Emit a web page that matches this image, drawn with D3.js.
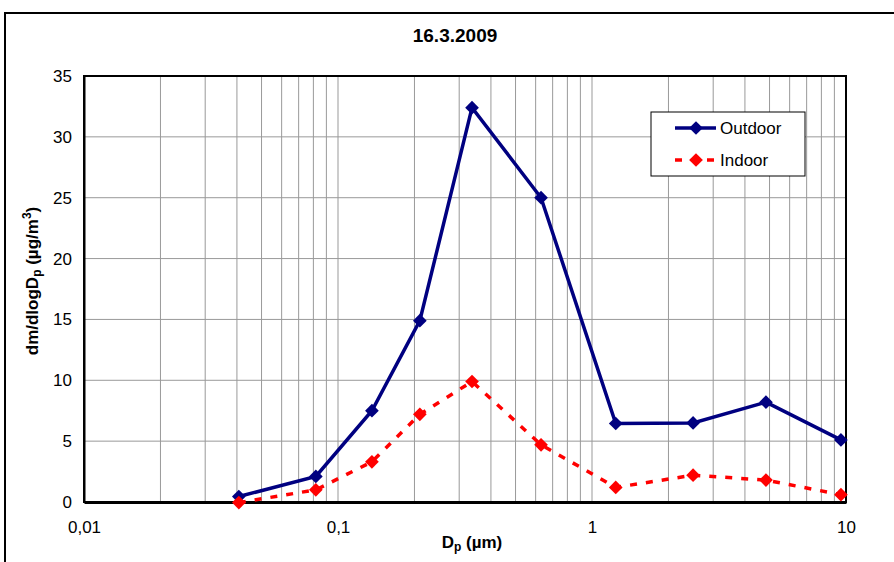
<!DOCTYPE html>
<html>
<head>
<meta charset="utf-8">
<script src="https://cdn.jsdelivr.net/npm/d3@7"></script>
<style>
  body { margin: 0; background: #fff; }
  text { font-family: "Liberation Sans", Arial, sans-serif; }
</style>
</head>
<body>
<script>
// particle size (um)
var sizes = [0.0407, 0.0818, 0.136, 0.21, 0.337, 0.63, 1.24, 2.5, 4.84, 9.55];
var outdoor = [0.45, 2.1, 7.5, 14.9, 32.4, 25.0, 6.45, 6.5, 8.2, 5.1];
var indoor = [-0.05, 1.0, 3.3, 7.2, 9.9, 4.7, 1.2, 2.2, 1.8, 0.6];
var yTicks = [0, 5, 10, 15, 20, 25, 30, 35];
var xTicks = [0.01, 0.1, 1, 10];
var xTickLabels = ["0,01", "0,1", "1", "10"];

var w = 894, h = 562;
var mLeft = 84, mRight = 846, mTop = 76, mBottom = 502;

var svg = d3.select("body").append("svg")
    .attr("width", w).attr("height", h);

// outer chart frame
svg.append("rect")
    .attr("x", 5).attr("y", 13)
    .attr("width", 890).attr("height", 560)
    .attr("fill", "none").attr("stroke", "#000").attr("stroke-width", 2);

var x = d3.scaleLog().domain([0.01, 10]).range([mLeft, mRight]);
var y = d3.scaleLinear().domain([0, 35]).range([mBottom, mTop]);

// vertical grid at every minor log step
var minor = [];
[0.01, 0.1, 1].forEach(function (d) {
    for (var k = 1; k <= 9; k++) minor.push(d * k);
});
svg.append("g").selectAll("line")
    .data(minor)
    .enter()
    .append("line")
    .attr("x1", function (d) { return x(d); })
    .attr("x2", function (d) { return x(d); })
    .attr("y1", mTop).attr("y2", mBottom)
    .attr("stroke", "#999").attr("stroke-width", 1);

svg.append("g").selectAll("line")
    .data(yTicks)
    .enter()
    .append("line")
    .attr("x1", mLeft).attr("x2", mRight)
    .attr("y1", function (d) { return y(d); })
    .attr("y2", function (d) { return y(d); })
    .attr("stroke", "#999").attr("stroke-width", 1);

// plot border
svg.append("rect")
    .attr("x", mLeft).attr("y", mTop)
    .attr("width", mRight - mLeft).attr("height", mBottom - mTop)
    .attr("fill", "none").attr("stroke", "#000").attr("stroke-width", 2);

// y axis
var yAxis = svg.append("g")
    .attr("transform", "translate(" + mLeft + ",0)")
    .call(d3.axisLeft(y).tickValues(yTicks).tickSize(0).tickPadding(12));
yAxis.select(".domain").attr("stroke-width", 2);
yAxis.selectAll("text").attr("font-size", 17).attr("fill", "#000")
    .style("font-family", "Liberation Sans, Arial, sans-serif");

// x axis
var xAxis = svg.append("g")
    .attr("transform", "translate(0," + mBottom + ")")
    .call(d3.axisBottom(x).tickValues(xTicks).tickSize(0).tickPadding(19)
        .tickFormat(function (d, i) { return xTickLabels[i]; }));
xAxis.select(".domain").attr("stroke-width", 3);
xAxis.selectAll("text").attr("font-size", 17).attr("fill", "#000")
    .style("font-family", "Liberation Sans, Arial, sans-serif");

// title and labels
svg.append("text")
    .attr("x", 455).attr("y", 42)
    .attr("text-anchor", "middle")
    .attr("font-size", 19).attr("font-weight", "bold")
    .text("16.3.2009");

var xl = svg.append("text")
    .attr("x", 472).attr("y", 548)
    .attr("text-anchor", "middle")
    .attr("font-size", 17).attr("font-weight", "bold");
xl.append("tspan").text("D");
xl.append("tspan").attr("font-size", 12).attr("dy", 3).text("p");
xl.append("tspan").attr("dy", -3).text(" (µm)");

var yl = svg.append("text")
    .attr("transform", "translate(38,281) rotate(-90)")
    .attr("text-anchor", "middle")
    .attr("font-size", 17).attr("font-weight", "bold");
yl.append("tspan").text("dm/dlogD");
yl.append("tspan").attr("font-size", 12).attr("dy", 3).text("p");
yl.append("tspan").attr("dy", -3).text(" (µg/m");
yl.append("tspan").attr("font-size", 12).attr("dy", -7).text("3");
yl.append("tspan").attr("dy", 7).text(")");

// series
var line = d3.line()
    .x(function (d, i) { return x(sizes[i]); })
    .y(function (d) { return y(d); });
var diamond = d3.symbol().type(d3.symbolDiamond2).size(120);

function drawSeries(vals, color, dash) {
    svg.append("path")
        .datum(vals)
        .attr("d", line)
        .attr("fill", "none")
        .attr("stroke", color)
        .attr("stroke-width", 3.5)
        .attr("stroke-dasharray", dash);
    svg.append("g").selectAll("path")
        .data(vals)
        .enter()
        .append("path")
        .attr("d", diamond)
        .attr("transform", function (d, i) {
            return "translate(" + x(sizes[i]) + "," + y(d) + ")";
        })
        .attr("fill", color);
}
drawSeries(outdoor, "#000080", null);
drawSeries(indoor, "#ff0000", "7,9");

// legend
var lg = svg.append("g");
lg.append("rect")
    .attr("x", 651).attr("y", 112).attr("width", 154).attr("height", 64)
    .attr("fill", "#fff").attr("stroke", "#000").attr("stroke-width", 1);
var legendItems = [["Outdoor", "#000080", null, 128], ["Indoor", "#ff0000", "7,9", 160]];
legendItems.forEach(function (it) {
    lg.append("line")
        .attr("x1", 675).attr("x2", 716)
        .attr("y1", it[3]).attr("y2", it[3])
        .attr("stroke", it[1]).attr("stroke-width", 3.5)
        .attr("stroke-dasharray", it[2]);
    lg.append("path")
        .attr("d", diamond)
        .attr("transform", "translate(696," + it[3] + ")")
        .attr("fill", it[1]);
    lg.append("text")
        .attr("x", 720).attr("y", it[3] + 6)
        .attr("font-size", 17)
        .text(it[0]);
});
</script>
</body>
</html>
